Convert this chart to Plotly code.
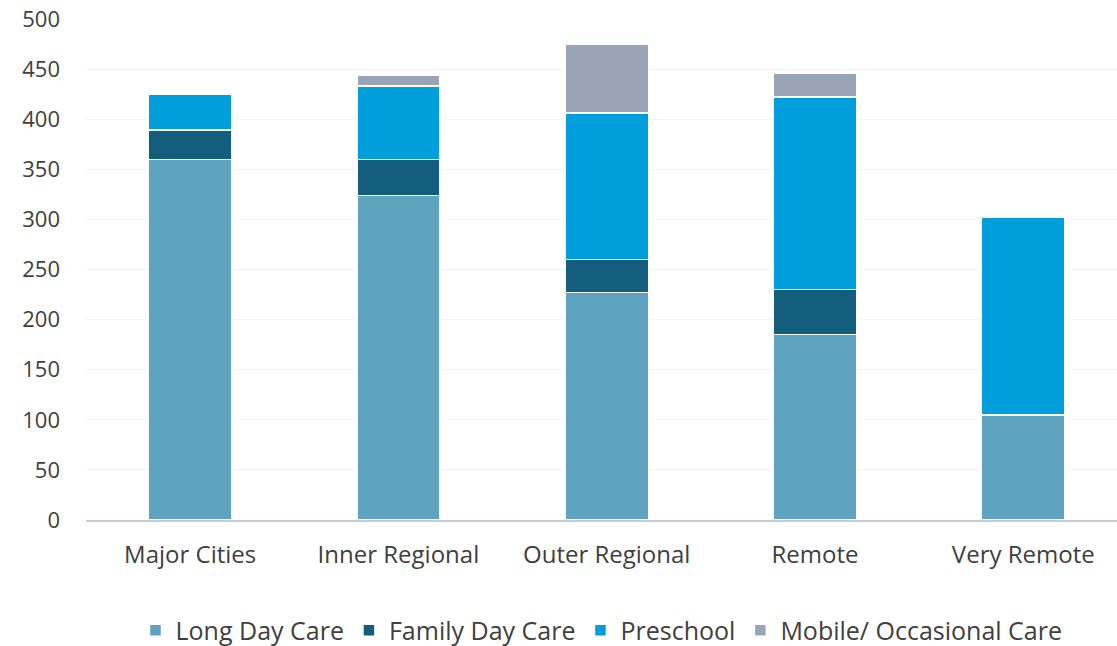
import plotly.graph_objects as go

categories = ["Major Cities", "Inner Regional", "Outer Regional", "Remote", "Very Remote"]
long_day_care = [360, 324, 227, 185, 105]
family_day_care = [29, 36, 33, 45, 0]
preschool = [36, 73, 146, 192, 197]
mobile_occasional = [0, 11, 69, 24, 0]

series = [
    ("Long Day Care", long_day_care, "#5ea4c1"),
    ("Family Day Care", family_day_care, "#125e7c"),
    ("Preschool", preschool, "#009edb"),
    ("Mobile/ Occasional Care", mobile_occasional, "#99a4b6"),
]

fig = go.Figure()
for name, vals, color in series:
    fig.add_trace(go.Bar(
        name=name, x=categories, y=vals,
        marker=dict(color=color, line=dict(color="white", width=1.5)),
    ))

font_family = "'Open Sans', sans-serif"
fig.update_layout(
    barmode="stack",
    bargap=0.6,
    width=1117, height=646,
    margin=dict(l=86, r=0, t=19, b=126, autoexpand=False),
    paper_bgcolor="white",
    plot_bgcolor="white",
    font=dict(family=font_family, color="#404040", size=21),
    legend=dict(
        orientation="h", x=0.5, xanchor="center",
        yref="container", y=0.024, yanchor="middle",
        font=dict(size=25, color="#404040"),
        traceorder="normal",
        itemwidth=30,
    ),
    xaxis=dict(
        range=[-0.5, 4.45],
        showgrid=False,
        showline=True, linecolor="#c6cdd7", linewidth=2,
        ticks="", tickfont=dict(size=24, color="#404040"),
        ticklabelstandoff=12,
        automargin=False,
    ),
    yaxis=dict(
        range=[0, 500], dtick=50,
        showgrid=True, gridcolor="#f4f4f4", gridwidth=1,
        zeroline=False, showline=False,
        tickfont=dict(size=22, color="#404040"),
        ticks="", ticklabelstandoff=25,
        automargin=False,
    ),
)

fig.write_html("out.html", config={"displayModeBar": False},
               post_script="document.body.style.margin='0';")
